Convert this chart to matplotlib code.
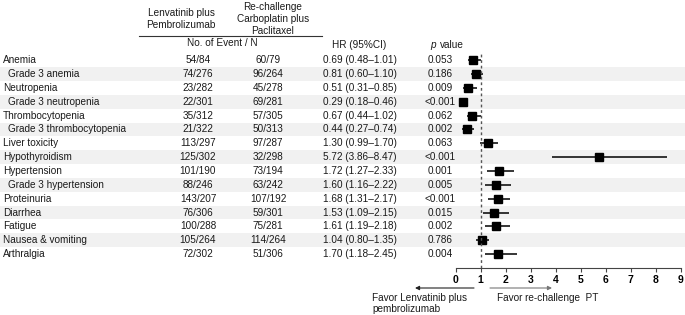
import matplotlib.pyplot as plt

plt.rcParams['font.family'] = ['Liberation Sans', 'DejaVu Sans']

# data
labels = ['Anemia', 'Grade 3 anemia', 'Neutropenia', 'Grade 3 neutropenia',
          'Thrombocytopenia', 'Grade 3 thrombocytopenia', 'Liver toxicity',
          'Hypothyroidism', 'Hypertension', 'Grade 3 hypertension', 'Proteinuria',
          'Diarrhea', 'Fatigue', 'Nausea & vomiting', 'Arthralgia']
sub = [False, True, False, True, False, True, False, False, False, True,
       False, False, False, False, False]
lp_events = ['54/84', '74/276', '23/282', '22/301', '35/312', '21/322', '113/297',
             '125/302', '101/190', '88/246', '143/207', '76/306', '100/288',
             '105/264', '72/302']
cp_events = ['60/79', '96/264', '45/278', '69/281', '57/305', '50/313', '97/287',
             '32/298', '73/194', '63/242', '107/192', '59/301', '75/281',
             '114/264', '51/306']
hr = [0.69, 0.81, 0.51, 0.29, 0.67, 0.44, 1.30, 5.72, 1.72, 1.60, 1.68, 1.53, 1.61, 1.04, 1.70]
lo = [0.48, 0.60, 0.31, 0.18, 0.44, 0.27, 0.99, 3.86, 1.27, 1.16, 1.31, 1.09, 1.19, 0.80, 1.18]
hi = [1.01, 1.10, 0.85, 0.46, 1.02, 0.74, 1.70, 8.47, 2.33, 2.22, 2.17, 2.15, 2.18, 1.35, 2.45]
pvals = ['0.053', '0.186', '0.009', '<0.001', '0.062', '0.002', '0.063', '<0.001',
         '0.001', '0.005', '<0.001', '0.015', '0.002', '0.786', '0.004']
xticks = list(range(10))

W, H = 685, 315
fig = plt.figure(figsize=(W / 100, H / 100), dpi=100)
bg = fig.add_axes([0, 0, 1, 1])
bg.set_xlim(0, W)
bg.set_ylim(H, 0)
bg.axis('off')

tc = '#1a1a1a'
fs = 7.2
y0, dy = 60.2, 13.85

# header
bg.text(181, 18.5, 'Lenvatinib plus\nPembrolizumab', ha='center', va='center',
        fontsize=fs, color=tc, linespacing=1.25)
bg.text(273, 18.5, 'Re-challenge\nCarboplatin plus\nPaclitaxel', ha='center', va='center',
        fontsize=fs, color=tc, linespacing=1.25)
bg.plot([139, 322], [36, 36], color='#333333', lw=0.8)
bg.text(222, 43.5, 'No. of Event / N', ha='center', va='center', fontsize=fs, color=tc)
bg.text(359, 45.5, 'HR (95%CI)', ha='center', va='center', fontsize=fs, color=tc)
bg.text(430, 45.5, 'p', ha='left', va='center', fontsize=fs, color=tc, style='italic')
bg.text(440, 45.5, 'value', ha='left', va='center', fontsize=fs, color=tc)

for i, lab in enumerate(labels):
    y = y0 + dy * i
    if i % 2 == 1:
        bg.axhspan(y - dy / 2, y + dy / 2, color='#f1f1f1', lw=0, zorder=0)
    bg.text(8 if sub[i] else 3, y, lab, ha='left', va='center', fontsize=fs, color=tc)
    bg.text(198, y, lp_events[i], ha='center', va='center', fontsize=fs, color=tc)
    bg.text(268, y, cp_events[i], ha='center', va='center', fontsize=fs, color=tc)
    bg.text(360, y, f'{hr[i]:.2f} ({lo[i]:.2f}\u2013{hi[i]:.2f})', ha='center',
            va='center', fontsize=fs, color=tc)
    bg.text(440, y, pvals[i], ha='center', va='center', fontsize=fs, color=tc)

# forest panel
top, bot = 52, 268
ax = fig.add_axes([455.7 / W, 1 - bot / H, 225 / W, (bot - top) / H])
ax.patch.set_alpha(0)
n = len(labels)
rows = list(range(n))
ax.set_ylim((bot - y0) / dy, (top - y0) / dy)
ax.set_xlim(0, 9)
ax.hlines(rows, lo, hi, color='black', lw=1.1)
ax.plot(hr, rows, 's', color='black', ms=6)
ax.axvline(1, color='#555555', ls=(0, (2, 2)), lw=1)
for s in ['top', 'right', 'left']:
    ax.spines[s].set_visible(False)
ax.spines['bottom'].set_color('#444444')
ax.set_yticks([])
ax.set_xticks(xticks)
ax.set_xticklabels([str(t) for t in xticks], fontweight='bold', fontsize=7.5)
ax.tick_params(axis='x', length=3, width=0.8, pad=2, color='#444444')

# favour arrows
bg.annotate('', xy=(415, 288), xytext=(474, 288),
            arrowprops=dict(arrowstyle='-|>', color='#222222', lw=0.8,
                            mutation_scale=6, shrinkA=0, shrinkB=0))
bg.annotate('', xy=(552, 288), xytext=(490, 288),
            arrowprops=dict(arrowstyle='-|>', color='#777777', lw=0.8,
                            mutation_scale=6, shrinkA=0, shrinkB=0))
bg.text(372, 303.5, 'Favor Lenvatinib plus\npembrolizumab', ha='left', va='center',
        fontsize=fs, color=tc, linespacing=1.15)
bg.text(497, 298, 'Favor re-challenge  PT', ha='left', va='center', fontsize=fs, color=tc)

fig.savefig('out.png', dpi=100)
